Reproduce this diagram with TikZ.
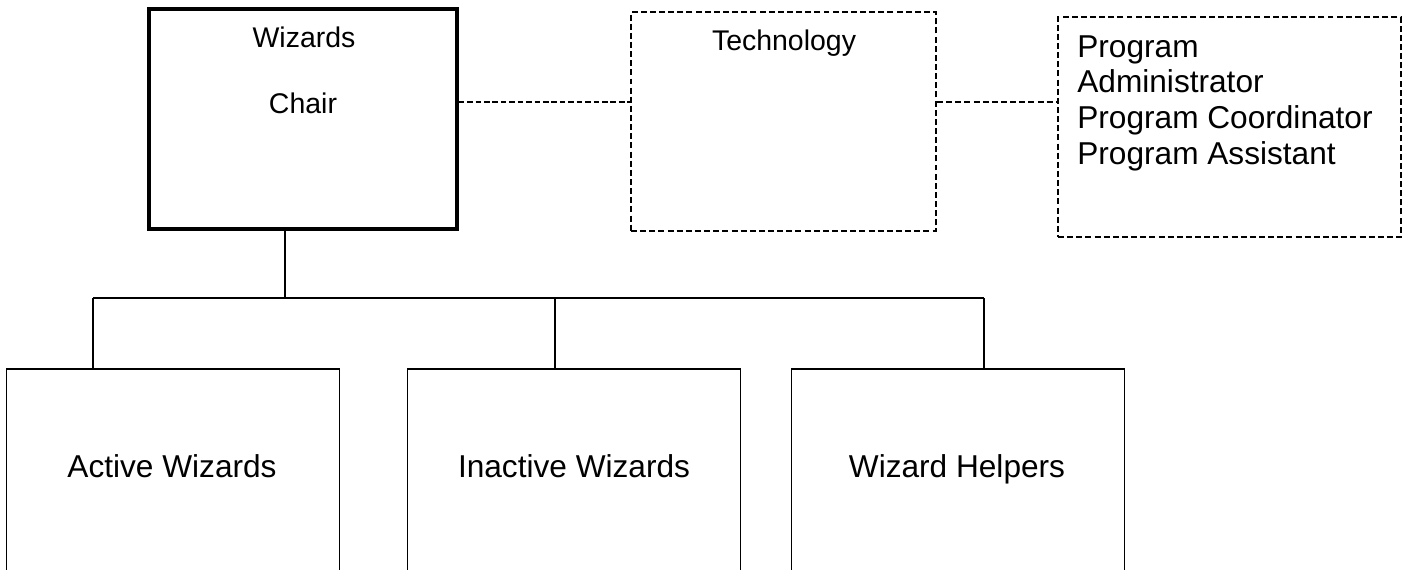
\documentclass[tikz,border=0pt]{standalone}
\usepackage{fontspec}
\setmainfont{Liberation Sans}
\usepackage{tikz}

\tikzset{
  chairbox/.style={draw, line width=1.9pt, minimum width=6.16cm, minimum height=4.4cm},
  dashbox/.style={draw, line width=1.25pt, dash pattern=on 3.4pt off 1.8pt},
  lowbox/.style={draw, line width=0.9pt, minimum width=6.66cm, minimum height=4.6cm},
  link/.style={line width=0.8pt, dash pattern=on 3.2pt off 1.6pt},
  tree/.style={line width=0.9pt},
  big/.style={font=\fontsize{18}{20.4}\selectfont},
  small/.style={font=\fontsize{16.2}{19}\selectfont}
}

\begin{document}
\begin{tikzpicture}[x=0.02cm, y=0.02cm]
\useasboundingbox (0,0) rectangle (1406,569);
\clip (0,0) rectangle (1406,569);

% Top row
\node[chairbox] (chair) at (303,450) {};
\node[small, anchor=base] at (304,521) {Wizards};
\node[small, anchor=base] at (303,456) {Chair};

\node[dashbox, minimum width=6.1cm, minimum height=4.38cm] (tech) at (783.5,447.5) {};
\node[small, anchor=base] at (784,518) {Technology};

\node[dashbox, minimum width=6.86cm, minimum height=4.4cm] (prog) at (1229.5,442) {};
\node[big, anchor=north west, inner sep=0pt, align=left] at (1077,534)
  {Program\\Administrator\\Program Coordinator\\Program Assistant};

% dotted ties
\coordinate (tie) at (0,467);
\draw[link] (chair.east |- tie) -- (tech.west |- tie);
\draw[dashbox] (tech.east |- tie) -- (prog.west |- tie);

% Bottom row (cut off by the page edge)
\node[lowbox] (active) at (173,85) {};
\node[big, anchor=base] at (172,92) {Active Wizards};
\node[lowbox] (inactive) at (574,85) {};
\node[big, anchor=base] at (574,92) {Inactive Wizards};
\node[lowbox] (helpers) at (958,85) {};
\node[big, anchor=base] at (957,92) {Wizard Helpers};

% Tree lines
\coordinate (hub) at (285,271);
\coordinate (busL) at (93,271);
\coordinate (busM) at (555,271);
\coordinate (busR) at (984,271);
\draw[tree] (chair.south -| hub) -- (hub);
\draw[tree, line width=1.1pt] (busL) -- (busR);
\draw[tree] (busL) -- (busL |- active.north);
\draw[tree] (busM) -- (busM |- inactive.north);
\draw[tree] (busR) -- (busR |- helpers.north);
\end{tikzpicture}
\end{document}
